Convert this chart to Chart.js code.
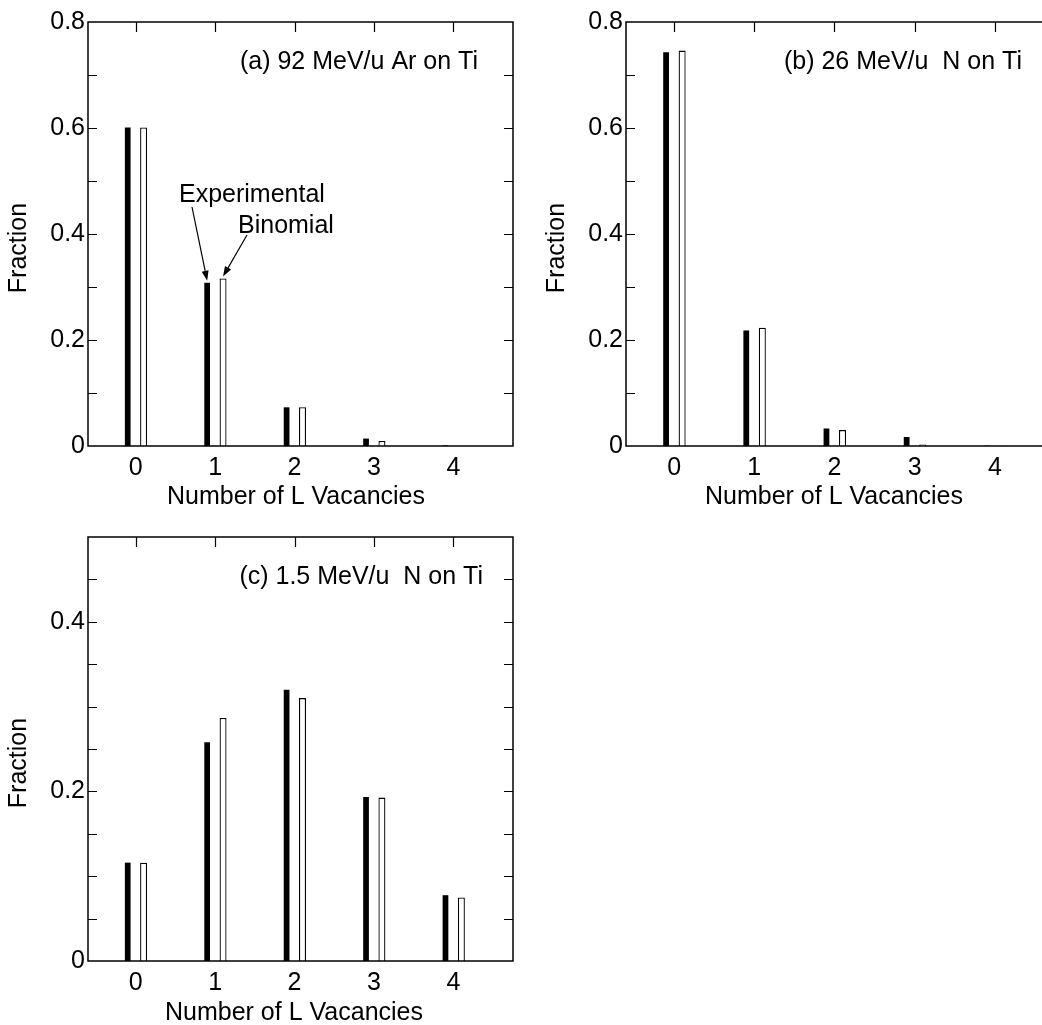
<!DOCTYPE html>
<html><head><meta charset="utf-8">
<script src="https://cdn.jsdelivr.net/npm/chart.js@4.4.1/dist/chart.umd.min.js"></script>
<style>
html,body{margin:0;padding:0;background:#fff;overflow:hidden;width:1042px;height:1025px;position:relative;}
.panel{position:absolute;}
</style></head><body>
<div class="panel" style="left:0;top:0;width:530px;height:520px"><canvas id="ca"></canvas></div>
<div class="panel" style="left:530px;top:0;width:530px;height:520px"><canvas id="cb"></canvas></div>
<div class="panel" style="left:0;top:515px;width:530px;height:510px"><canvas id="cc"></canvas></div>
<script>
const categories = [0, 1, 2, 3, 4];
const expA = [0.601, 0.308, 0.073, 0.014, 0.001];
const binA = [0.601, 0.316, 0.073, 0.0095, 0.0005];
const expB = [0.743, 0.218, 0.033, 0.017, 0.0005];
const binB = [0.746, 0.223, 0.030, 0.003, 0.0003];
const expC = [0.116, 0.258, 0.320, 0.1935, 0.0776];
const binC = [0.116, 0.2865, 0.310, 0.1927, 0.0749];
const yLabelsAB = [0, 0.2, 0.4, 0.6, 0.8];
const yLabelsC = [0, 0.2, 0.4];
const seriesNames = ['Experimental', 'Binomial'];
const panelLabels = ['(a) 92 MeV/u Ar on Ti', '(b) 26 MeV/u  N on Ti', '(c) 1.5 MeV/u  N on Ti'];
const xTitle = 'Number of L Vacancies';
const yTitle = 'Fraction';

const FONT = "'Liberation Sans', Arial, Helvetica, sans-serif";

function drawArrow(ctx, x1, y1, x2, y2) {
  const ang = Math.atan2(y2 - y1, x2 - x1);
  const hl = 10, hw = 3.5;
  const bx = x2 - hl * Math.cos(ang), by = y2 - hl * Math.sin(ang);
  ctx.beginPath();
  ctx.moveTo(x1, y1); ctx.lineTo(bx, by);
  ctx.lineWidth = 1.2; ctx.stroke();
  ctx.beginPath();
  ctx.moveTo(x2, y2);
  ctx.lineTo(bx + hw * Math.sin(ang), by - hw * Math.cos(ang));
  ctx.lineTo(bx - hw * Math.sin(ang), by + hw * Math.cos(ang));
  ctx.closePath(); ctx.fill();
}

const decor = {
  id: 'decor',
  afterDatasetsDraw(chart, args, o) {
    const ctx = chart.ctx, a = chart.chartArea;
    const xs = chart.scales.x, ys = chart.scales.y;
    ctx.save();
    ctx.strokeStyle = '#000'; ctx.fillStyle = '#000';
    ctx.lineWidth = 1.5;
    ctx.strokeRect(a.left, a.top, a.right - a.left, a.bottom - a.top);
    ctx.lineWidth = 1.2;
    ctx.beginPath();
    ys.ticks.forEach(t => {
      if (t.value <= ys.min + 1e-9 || t.value >= ys.max - 1e-9) return;
      const y = Math.round(ys.getPixelForValue(t.value)) + 0.5;
      ctx.moveTo(a.left, y); ctx.lineTo(a.left + 9, y);
      ctx.moveTo(a.right, y); ctx.lineTo(a.right - 9, y);
    });
    xs.ticks.forEach(t => {
      const x = Math.round(xs.getPixelForValue(t.value)) + 0.5;
      ctx.moveTo(x, a.top); ctx.lineTo(x, a.top + 10);
    });
    ctx.stroke();
    ctx.font = '25px ' + FONT;
    ctx.textBaseline = 'middle';
    ctx.textAlign = 'right';
    ctx.fillText(o.label, o.labelRight, o.labelY);
    ctx.textAlign = 'center';
    ctx.fillText(xTitle, o.xTitleX, o.xTitleY);
    ctx.save();
    ctx.translate(o.yTitleX, o.yTitleY); ctx.rotate(-Math.PI / 2);
    ctx.fillText(yTitle, 0, 0);
    ctx.restore();
    if (o.arrows) {
      const e = chart.getDatasetMeta(0).data[1];
      const b = chart.getDatasetMeta(1).data[1];
      drawArrow(ctx, 192, 207, e.x, e.y - 2);
      drawArrow(ctx, 247, 235, b.x, b.y - 2);
      ctx.textAlign = 'left';
      ctx.fillText(seriesNames[0], 179, 195);
      ctx.fillText(seriesNames[1], 238, 226);
    }
    ctx.restore();
  }
};

function makeChart(id, exp, bin, cfg) {
  return new Chart(document.getElementById(id), {
    type: 'bar',
    data: {
      datasets: [
        { label: seriesNames[0], data: categories.map((c, i) => ({ x: c, y: exp[i] })),
          backgroundColor: '#000', borderWidth: 0, barPercentage: 0.36, categoryPercentage: 0.4 },
        { label: seriesNames[1], data: categories.map((c, i) => ({ x: c, y: bin[i] })),
          backgroundColor: '#fff', borderColor: '#000', borderWidth: 1.3, barPercentage: 0.44, categoryPercentage: 0.4 }
      ]
    },
    options: {
      responsive: true, maintainAspectRatio: false, animation: false,
      layout: { padding: { top: 22, right: cfg.padRight, left: 0, bottom: 0 } },
      plugins: {
        legend: { display: false }, tooltip: { enabled: false },
        decor: cfg.decor
      },
      scales: {
        x: {
          type: 'linear', min: -0.6, max: 4.75, offset: false,
          grid: { display: false, drawTicks: false, offset: false }, border: { display: false },
          afterBuildTicks: s => { s.ticks = categories.map(v => ({ value: v })); },
          afterFit: s => { s.height = cfg.xHeight; },
          ticks: { color: '#000', font: { family: FONT, size: 25 }, padding: 7, autoSkip: false,
                   maxRotation: 0, callback: v => String(v) }
        },
        y: {
          min: 0, max: cfg.yMax,
          grid: { display: false, drawTicks: false }, border: { display: false },
          afterFit: s => { s.width = cfg.yWidth; },
          ticks: { stepSize: cfg.step, color: '#000', font: { family: FONT, size: 25 }, padding: 3, autoSkip: false,
                   callback: v => cfg.labels.some(l => Math.abs(l - v) < 1e-9) ? String(+v.toFixed(1)) : '' }
        }
      }
    },
    plugins: [decor]
  });
}

makeChart('ca', expA, binA, {
  padRight: 17, yWidth: 88, xHeight: 74, yMax: 0.8, step: 0.1, labels: yLabelsAB,
  decor: { label: panelLabels[0], labelRight: 478, labelY: 62, xTitleX: 296, xTitleY: 497, yTitleX: 19, yTitleY: 248, arrows: true }
});
makeChart('cb', expB, binB, {
  padRight: 5, yWidth: 96, xHeight: 74, yMax: 0.8, step: 0.1, labels: yLabelsAB,
  decor: { label: panelLabels[1], labelRight: 492, labelY: 62, xTitleX: 304, xTitleY: 497, yTitleX: 27, yTitleY: 248, arrows: false }
});
makeChart('cc', expC, binC, {
  padRight: 17, yWidth: 88, xHeight: 64, yMax: 0.5, step: 0.05, labels: yLabelsC,
  decor: { label: panelLabels[2], labelRight: 483, labelY: 62, xTitleX: 294, xTitleY: 498, yTitleX: 19, yTitleY: 248, arrows: false }
});
</script>
</body></html>
